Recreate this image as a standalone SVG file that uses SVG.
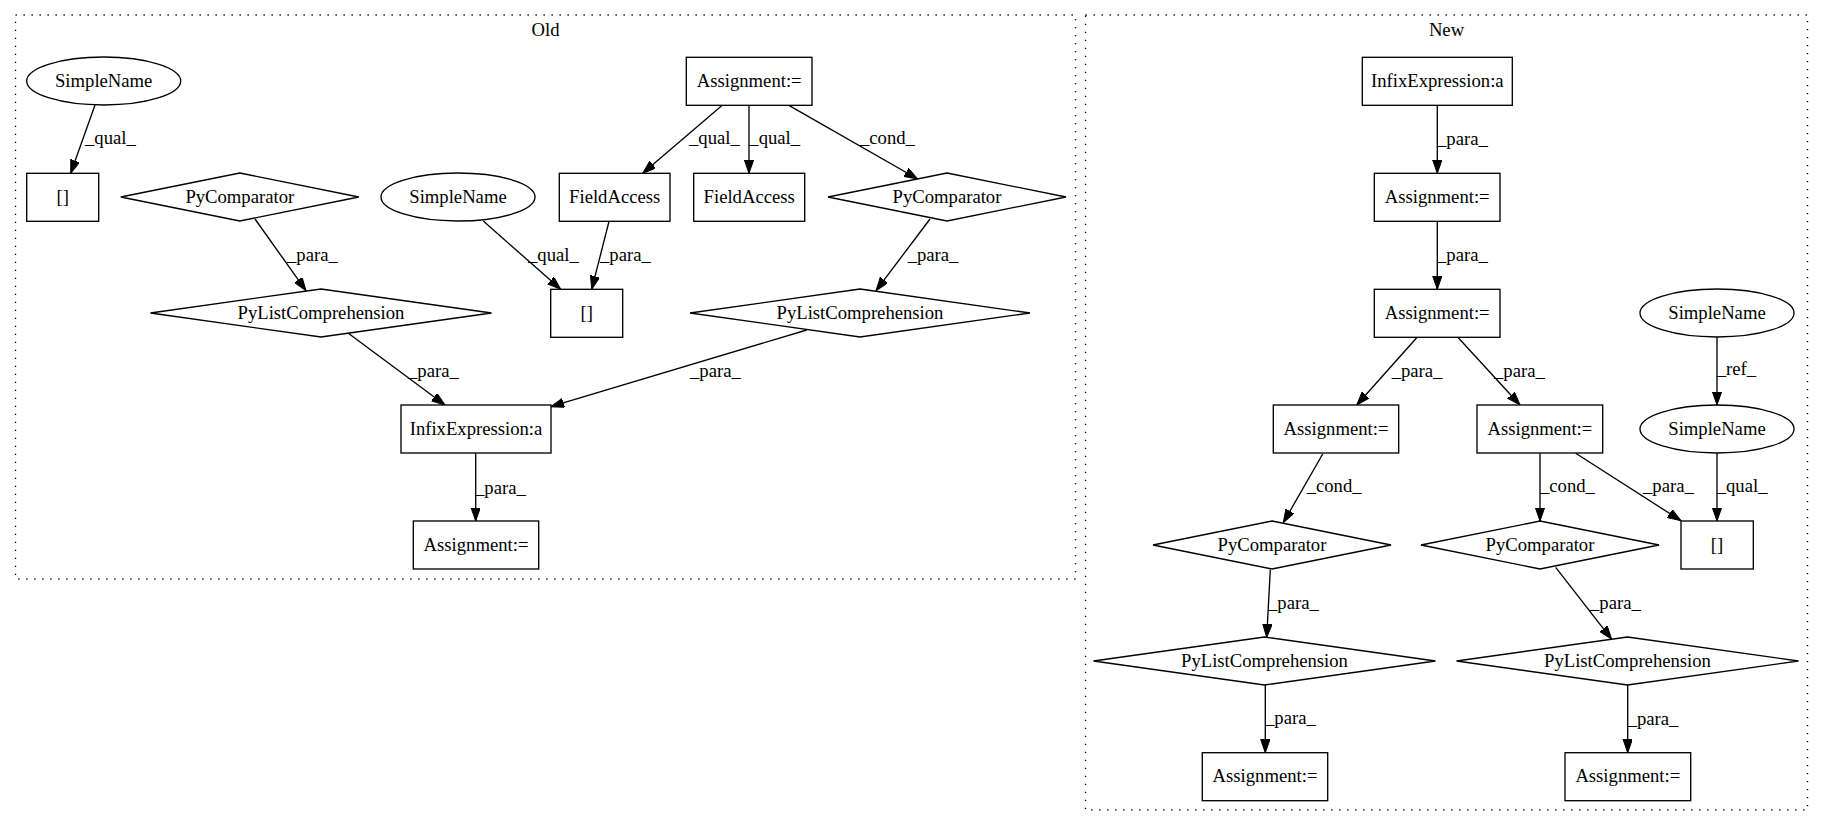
<svg xmlns="http://www.w3.org/2000/svg" width="1824" height="828" viewBox="0 0 1824 828" font-family="Liberation Serif, Times New Roman, serif" font-size="18.67">
<defs>
<marker id="ah" markerUnits="userSpaceOnUse" markerWidth="14" markerHeight="10" refX="13.33" refY="4.67" orient="auto" viewBox="0 0 14 10">
<path d="M0,0 L13.33,4.67 L0,9.33 z" fill="#000" stroke="#000" stroke-width="1"/>
</marker>
</defs>
<style>
.n{text-anchor:middle}
.shape{fill:#fff;stroke:#000;stroke-width:1.33}
.cl{fill:none;stroke:#000;stroke-width:1.33;stroke-dasharray:1.33 6.67}
.e line{stroke:#000;stroke-width:1.33;marker-end:url(#ah)}
</style>
<rect width="1824" height="828" fill="#fff"/>
<g id="cluster_old">
<rect class="cl" x="15.5" y="15" width="1060" height="564"/>
<text class="n" x="545.5" y="36">Old</text>
</g>
<g id="cluster_new">
<rect class="cl" x="1085.5" y="15" width="722" height="795"/>
<text class="n" x="1446.5" y="36">New</text>
</g>
<g id="connectors" class="e">
<line x1="95" y1="105" x2="70.7" y2="173.3"/>
<text x="85" y="144">_qual_</text>
<line x1="255" y1="219" x2="306" y2="290.7"/>
<text x="287" y="261">_para_</text>
<line x1="721.7" y1="105.7" x2="642.7" y2="173.3"/>
<text x="689" y="144">_qual_</text>
<line x1="749" y1="105" x2="749" y2="173.3"/>
<text x="749.3" y="144">_qual_</text>
<line x1="789.3" y1="105.7" x2="917.7" y2="179"/>
<text x="860" y="144">_cond_</text>
<line x1="483.3" y1="221" x2="560.7" y2="289.3"/>
<text x="528" y="261">_qual_</text>
<line x1="609" y1="221.5" x2="591.7" y2="289.3"/>
<text x="600" y="261">_para_</text>
<line x1="930" y1="219" x2="876" y2="290.7"/>
<text x="907.7" y="261">_para_</text>
<line x1="348.3" y1="333.3" x2="445" y2="405"/>
<text x="408" y="377">_para_</text>
<line x1="806.7" y1="330" x2="550.7" y2="406.7"/>
<text x="690" y="377">_para_</text>
<line x1="475.7" y1="453.3" x2="475.7" y2="521"/>
<text x="475" y="494">_para_</text>
<line x1="1437.3" y1="105.3" x2="1437.3" y2="173.3"/>
<text x="1437" y="145">_para_</text>
<line x1="1437.3" y1="221.3" x2="1437.3" y2="289.3"/>
<text x="1437" y="261">_para_</text>
<line x1="1416.7" y1="337.7" x2="1356.7" y2="405"/>
<text x="1391.7" y="377">_para_</text>
<line x1="1458.3" y1="337.7" x2="1520" y2="405"/>
<text x="1494" y="377">_para_</text>
<line x1="1717" y1="337" x2="1717" y2="405"/>
<text x="1716.7" y="375">_ref_</text>
<line x1="1717" y1="453" x2="1717" y2="521"/>
<text x="1716.7" y="492">_qual_</text>
<line x1="1575.7" y1="453.3" x2="1681" y2="520.7"/>
<text x="1643" y="492">_para_</text>
<line x1="1540" y1="453.3" x2="1540" y2="521"/>
<text x="1540" y="492">_cond_</text>
<line x1="1322.7" y1="454" x2="1283.3" y2="522.7"/>
<text x="1306.7" y="492">_cond_</text>
<line x1="1270.3" y1="569.7" x2="1266.7" y2="637.5"/>
<text x="1268" y="609">_para_</text>
<line x1="1265.3" y1="685" x2="1265.3" y2="752.7"/>
<text x="1265" y="724">_para_</text>
<line x1="1555.7" y1="567.3" x2="1611.7" y2="639.3"/>
<text x="1590" y="609">_para_</text>
<line x1="1627.7" y1="685" x2="1627.7" y2="752.7"/>
<text x="1627.7" y="725">_para_</text>
</g>
<g id="old_simplename1"><ellipse class="shape" cx="103.7" cy="81" rx="77" ry="24"/><text class="n" x="103.7" y="86.5">SimpleName</text></g>
<g id="old_index1"><rect class="shape" x="26.7" y="173.3" width="72" height="48"/><text class="n" x="62.7" y="202.5">[]</text></g>
<g id="old_pycomparator1"><polygon class="shape" points="239.8,173 358.8,197 239.8,221 120.8,197"/><text class="n" x="239.8" y="202.5">PyComparator</text></g>
<g id="old_simplename2"><ellipse class="shape" cx="458" cy="197" rx="77" ry="24"/><text class="n" x="458" y="202.5">SimpleName</text></g>
<g id="old_fieldaccess1"><rect class="shape" x="559.3" y="173.3" width="110.7" height="48"/><text class="n" x="614.7" y="202.5">FieldAccess</text></g>
<g id="old_fieldaccess2"><rect class="shape" x="693.7" y="173.3" width="111" height="48"/><text class="n" x="749.2" y="202.5">FieldAccess</text></g>
<g id="old_pycomparator2"><polygon class="shape" points="947,173 1066,197 947,221 828,197"/><text class="n" x="947" y="202.5">PyComparator</text></g>
<g id="old_assignment_top"><rect class="shape" x="686.3" y="57.3" width="125.7" height="48"/><text class="n" x="749.2" y="86.5">Assignment:=</text></g>
<g id="old_index2"><rect class="shape" x="550.7" y="289.3" width="72" height="48"/><text class="n" x="586.7" y="318.5">[]</text></g>
<g id="old_pylistcomp1"><polygon class="shape" points="321,289 491.5,313 321,337 150.5,313"/><text class="n" x="321" y="318.5">PyListComprehension</text></g>
<g id="old_pylistcomp2"><polygon class="shape" points="860,289 1030,313 860,337 690,313"/><text class="n" x="860" y="318.5">PyListComprehension</text></g>
<g id="old_infix"><rect class="shape" x="401" y="405" width="150" height="48"/><text class="n" x="476" y="434.5">InfixExpression:a</text></g>
<g id="old_assignment_bottom"><rect class="shape" x="413.3" y="521" width="125.4" height="48"/><text class="n" x="476" y="550.5">Assignment:=</text></g>
<g id="new_infix"><rect class="shape" x="1362.3" y="57.3" width="150" height="48"/><text class="n" x="1437.3" y="86.5">InfixExpression:a</text></g>
<g id="new_assignment1"><rect class="shape" x="1374.3" y="173.3" width="125.7" height="48"/><text class="n" x="1437.2" y="202.5">Assignment:=</text></g>
<g id="new_assignment2"><rect class="shape" x="1374.3" y="289.3" width="125.7" height="48"/><text class="n" x="1437.2" y="318.5">Assignment:=</text></g>
<g id="new_assignment3"><rect class="shape" x="1273.3" y="405" width="125.4" height="48"/><text class="n" x="1336" y="434.5">Assignment:=</text></g>
<g id="new_assignment4"><rect class="shape" x="1477" y="405" width="125.7" height="48"/><text class="n" x="1539.9" y="434.5">Assignment:=</text></g>
<g id="new_simplename1"><ellipse class="shape" cx="1717" cy="313" rx="77" ry="24"/><text class="n" x="1717" y="318.5">SimpleName</text></g>
<g id="new_simplename2"><ellipse class="shape" cx="1717" cy="429" rx="77" ry="24"/><text class="n" x="1717" y="434.5">SimpleName</text></g>
<g id="new_index"><rect class="shape" x="1681" y="521" width="72.3" height="48"/><text class="n" x="1717" y="550.5">[]</text></g>
<g id="new_pycomparator1"><polygon class="shape" points="1272,521 1391,545 1272,569 1153,545"/><text class="n" x="1272" y="550.5">PyComparator</text></g>
<g id="new_pycomparator2"><polygon class="shape" points="1540,521 1659,545 1540,569 1421,545"/><text class="n" x="1540" y="550.5">PyComparator</text></g>
<g id="new_pylistcomp1"><polygon class="shape" points="1264.5,637 1435.5,661 1264.5,685 1093.5,661"/><text class="n" x="1264.5" y="666.5">PyListComprehension</text></g>
<g id="new_pylistcomp2"><polygon class="shape" points="1627.5,637 1798.5,661 1627.5,685 1456.5,661"/><text class="n" x="1627.5" y="666.5">PyListComprehension</text></g>
<g id="new_assignment5"><rect class="shape" x="1202.3" y="752.7" width="125.4" height="48"/><text class="n" x="1265" y="782">Assignment:=</text></g>
<g id="new_assignment6"><rect class="shape" x="1565" y="752.7" width="125.7" height="48"/><text class="n" x="1627.8" y="782">Assignment:=</text></g>
</svg>
